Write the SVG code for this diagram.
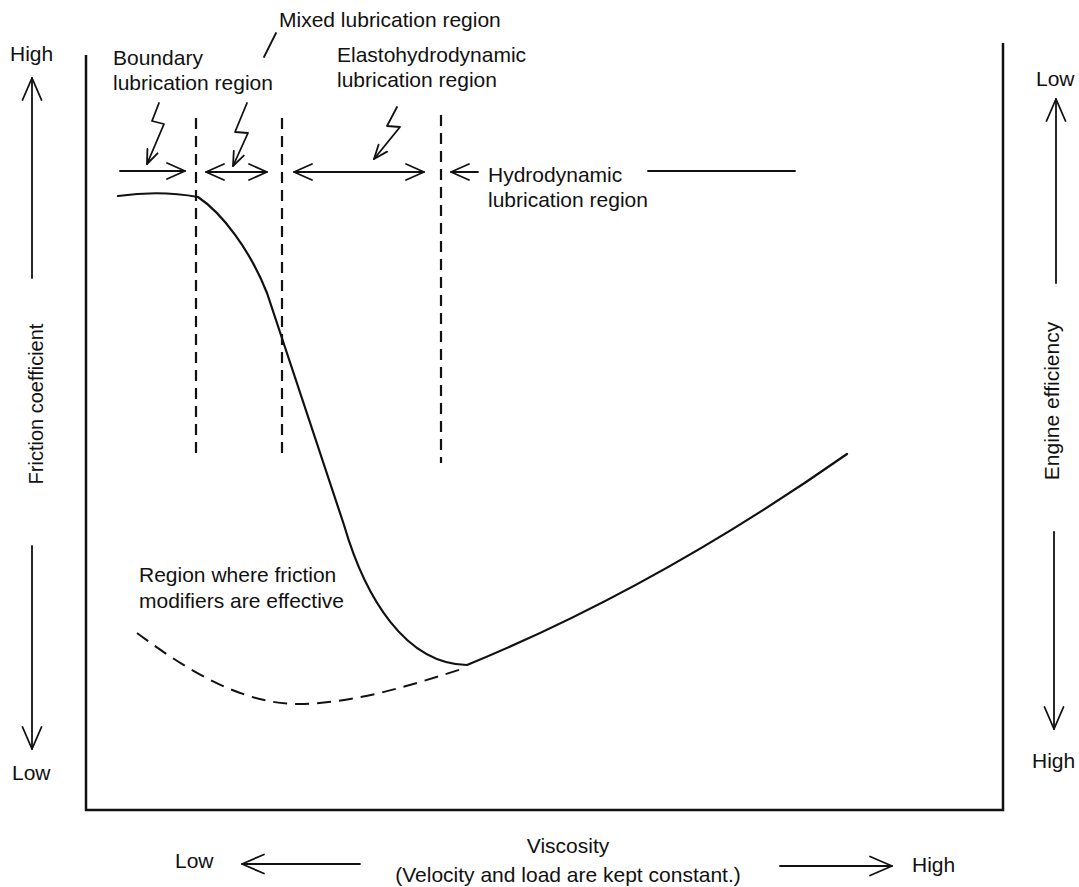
<svg xmlns="http://www.w3.org/2000/svg" width="1079" height="887" viewBox="0 0 1079 887">
<defs>
<style>
.t{font-family:"Liberation Sans",Arial,sans-serif;font-size:21px;fill:#111}
.ln{fill:none;stroke:#111;stroke-width:1.8;stroke-linecap:round;stroke-linejoin:round}
.fr{fill:none;stroke:#111;stroke-width:2.5;stroke-linejoin:miter}
.cv{fill:none;stroke:#111;stroke-width:2.2;stroke-linecap:round;stroke-linejoin:round}
.dv{fill:none;stroke:#111;stroke-width:2.2;stroke-dasharray:11 7}
.dc{fill:none;stroke:#111;stroke-width:2;stroke-dasharray:14 8}
</style>
<marker id="arr" viewBox="0 0 24 22" refX="23" refY="11" markerWidth="24" markerHeight="22" markerUnits="userSpaceOnUse" orient="auto-start-reverse">
<path d="M1,1.5 L23,11 L1,20.5" fill="none" stroke="#111" stroke-width="1.8" stroke-linecap="round" stroke-linejoin="round"/>
</marker>
<marker id="arrs" viewBox="0 0 20 20" refX="19" refY="10" markerWidth="20" markerHeight="20" markerUnits="userSpaceOnUse" orient="auto-start-reverse">
<path d="M1,2 L19,10 L1,18" fill="none" stroke="#111" stroke-width="1.8" stroke-linecap="round" stroke-linejoin="round"/>
</marker>
<marker id="bolt" viewBox="0 0 16 14" refX="15" refY="7" markerWidth="16" markerHeight="14" markerUnits="userSpaceOnUse" orient="auto">
<path d="M1,1.5 L15,7 L1,12.5" fill="none" stroke="#111" stroke-width="1.8" stroke-linecap="round" stroke-linejoin="round"/>
</marker>
</defs>
<rect width="1079" height="887" fill="#fff"/>

<g id="frame">
<path class="fr" d="M86,55 L86,810 L1003,810 L1003,43"/>
</g>

<g id="friction-axis">
<text class="t" x="10" y="61">High</text>
<text class="t" x="12" y="780">Low</text>
<text class="t" style="font-size:20px" text-anchor="middle" transform="translate(43,404) rotate(-90)">Friction coefficient</text>
</g>

<g id="efficiency-axis">
<text class="t" x="1036" y="86">Low</text>
<text class="t" x="1032" y="768">High</text>
<text class="t" text-anchor="middle" transform="translate(1059,401) rotate(-90)">Engine efficiency</text>
</g>

<g id="viscosity-axis">
<text class="t" x="175" y="868">Low</text>
<text class="t" text-anchor="middle" x="568" y="853">Viscosity</text>
<text class="t" text-anchor="middle" x="568" y="882">(Velocity and load are kept constant.)</text>
<text class="t" x="912" y="872">High</text>
</g>

<g id="boundary-region">
<text class="t" x="113" y="65">Boundary</text>
<text class="t" x="113" y="90">lubrication region</text>
</g>

<g id="mixed-region">
<text class="t" x="279" y="27">Mixed lubrication region</text>
</g>

<g id="ehl-region">
<text class="t" x="337" y="62">Elastohydrodynamic</text>
<text class="t" x="337" y="87">lubrication region</text>
</g>

<g id="hydrodynamic-region">
<text class="t" x="488" y="182">Hydrodynamic</text>
<text class="t" x="488" y="207">lubrication region</text>
</g>

<g id="friction-modifier-region">
<text class="t" x="139" y="582">Region where friction</text>
<text class="t" x="139" y="608">modifiers are effective</text>
</g>

<g id="region-boundaries">
<line class="dv" x1="196" y1="118" x2="196" y2="458"/>
<line class="dv" x1="282" y1="118" x2="282" y2="455"/>
<line class="dv" x1="441" y1="115" x2="441" y2="463"/>
</g>

<g id="stribeck-curve">
<path class="cv" d="M118,196 Q160,190 198,197 C222,213 250,250 267,293 L344,525 C365,597 405,664 467,665 Q657,587 847,454"/>
<path class="dc" d="M137,633 C180,665 240,705 300,704 C360,703 420,682 465,668"/>
</g>

<g id="connectors">
<path class="ln" d="M32,278 L32,78" marker-end="url(#arr)"/>
<path class="ln" d="M32,546 L32,749" marker-end="url(#arr)"/>
<path class="ln" d="M1056,283 L1056,99" marker-end="url(#arr)"/>
<path class="ln" d="M1054,532 L1054,729" marker-end="url(#arr)"/>
<path class="ln" d="M360,864 L242,864" marker-end="url(#arr)"/>
<path class="ln" d="M780,866 L892,866" marker-end="url(#arr)"/>

<path class="ln" d="M120,171 L185,171" marker-end="url(#arrs)"/>
<path class="ln" d="M206,172 L267,172" marker-start="url(#arrs)" marker-end="url(#arrs)"/>
<path class="ln" d="M294,172 L424,172" marker-start="url(#arrs)" marker-end="url(#arrs)"/>
<path class="ln" d="M478,172 L451,172" marker-end="url(#arrs)"/>
<path class="ln" d="M648,171 L795,171"/>

<path class="ln" d="M159,103 L152,121 L164,124 L147,164" marker-end="url(#bolt)"/>
<path class="ln" d="M247,103 L235,132 L248,133 L233,166" marker-end="url(#bolt)"/>
<path class="ln" d="M397,107 L387,126 L400,127 L374,159" marker-end="url(#bolt)"/>
<path class="ln" d="M264,57 L276,33"/>
</g>
</svg>
